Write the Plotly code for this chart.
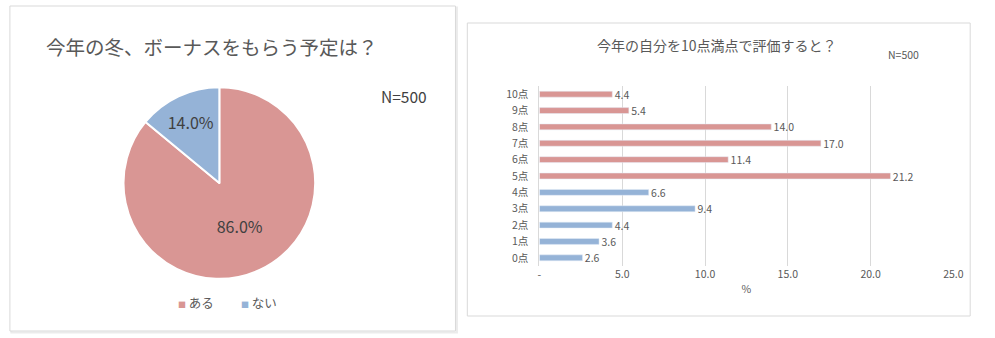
import plotly.graph_objects as go

# ---- data ----
pie_labels = ["ある", "ない"]
pie_values = [86.0, 14.0]
pie_title = "今年の冬、ボーナスをもらう予定は？"

bar_categories = ["0点", "1点", "2点", "3点", "4点", "5点", "6点", "7点", "8点", "9点", "10点"]
bar_values = [2.6, 3.6, 4.4, 9.4, 6.6, 21.2, 11.4, 17.0, 14.0, 5.4, 4.4]
bar_title = "今年の自分を10点満点で評価すると？"
x_tickvals = [0, 5, 10, 15, 20, 25]
x_ticktext = ["-", "5.0", "10.0", "15.0", "20.0", "25.0"]
sample_note = "N=500"

PINK = "#D99694"
BLUE = "#95B3D7"
TXT = "#595959"
FONT = "Noto Sans CJK JP"

W, H = 995, 338
def px(x):
    return x / W
def py(y):
    return 1 - y / H

bar_colors = [PINK if int(c.replace("点", "")) >= 5 else BLUE for c in bar_categories]

fig = go.Figure()

fig.add_trace(go.Pie(
    labels=pie_labels, values=pie_values,
    sort=False, direction="clockwise", rotation=0,
    marker=dict(colors=[PINK, BLUE], line=dict(color="white", width=2)),
    texttemplate="%{percent:.1%}", textposition="inside",
    insidetextorientation="horizontal",
    textfont=dict(family=FONT, size=16, color="#404040"),
    domain=dict(x=[px(123), px(317)], y=[py(280), py(86)]),
    showlegend=False, hoverinfo="label+percent",
))

fig.add_trace(go.Bar(
    y=bar_categories, x=bar_values, orientation="h",
    marker=dict(color=bar_colors), width=0.36,
    texttemplate="\u00a0%{x:.1f}", textposition="outside", constraintext="none",
    textfont=dict(family=FONT, size=10.5, color=TXT),
    cliponaxis=False, showlegend=False,
    xaxis="x", yaxis="y",
))

fig.update_layout(
    width=W, height=H,
    margin=dict(l=0, r=0, t=0, b=0),
    paper_bgcolor="white", plot_bgcolor="white",
    font=dict(family=FONT, color=TXT),
    xaxis=dict(
        domain=[px(544), px(963)], anchor="y", range=[0, 25],
        tickvals=x_tickvals, ticktext=x_ticktext,
        tickfont=dict(size=10.5, color=TXT),
        showgrid=True, gridcolor="#D9D9D9", gridwidth=1,
        zeroline=False, showline=False, ticks="",
        title=dict(text="%", font=dict(size=10.5, color=TXT), standoff=6),
        fixedrange=True,
    ),
    yaxis=dict(
        domain=[py(266), py(86)], anchor="x",
        categoryorder="array", categoryarray=bar_categories,
        tickfont=dict(size=10.5, color=TXT),
        showline=True, linecolor="#D9D9D9", linewidth=1,
        showgrid=False, zeroline=False, ticks="", ticklabelstandoff=8,
        fixedrange=True,
    ),
    shapes=[
        # left panel shadow + border
        dict(type="rect", xref="paper", yref="paper",
             x0=px(9.5), x1=px(460.5), y0=py(332.5), y1=py(7.5),
             line=dict(color="#EBEBEB", width=2), fillcolor="rgba(0,0,0,0)", layer="below"),
        dict(type="rect", xref="paper", yref="paper",
             x0=px(8), x1=px(459), y0=py(331), y1=py(6),
             line=dict(color="#D9D9D9", width=1), fillcolor="white", layer="below"),
        # right panel border
        dict(type="rect", xref="paper", yref="paper",
             x0=px(471), x1=px(980), y0=py(316), y1=py(23),
             line=dict(color="#D9D9D9", width=1), fillcolor="white", layer="below"),
    ],
    annotations=[
        dict(text=pie_title, xref="paper", yref="paper", x=px(43), y=py(47),
             xanchor="left", yanchor="middle", showarrow=False,
             font=dict(size=19.5, color=TXT, family=FONT)),
        dict(text=sample_note, xref="paper", yref="paper", x=px(407), y=py(96),
             xanchor="center", yanchor="middle", showarrow=False,
             font=dict(size=15.5, color="#404040", family=FONT)),
        dict(text=f"<span style='color:{PINK};font-size:8px'>■</span> {pie_labels[0]}",
             xref="paper", yref="paper", x=px(176), y=py(302),
             xanchor="left", yanchor="middle", showarrow=False,
             font=dict(size=12.5, color=TXT, family=FONT)),
        dict(text=f"<span style='color:{BLUE};font-size:8px'>■</span> {pie_labels[1]}",
             xref="paper", yref="paper", x=px(240), y=py(302),
             xanchor="left", yanchor="middle", showarrow=False,
             font=dict(size=12.5, color=TXT, family=FONT)),
        dict(text=bar_title, xref="paper", yref="paper", x=px(724), y=py(45),
             xanchor="center", yanchor="middle", showarrow=False,
             font=dict(size=14, color=TXT, family=FONT)),
        dict(text=sample_note, xref="paper", yref="paper", x=px(913), y=py(54),
             xanchor="center", yanchor="middle", showarrow=False,
             font=dict(size=10.5, color=TXT, family=FONT)),
    ],
)

fig.write_html("out.html")
